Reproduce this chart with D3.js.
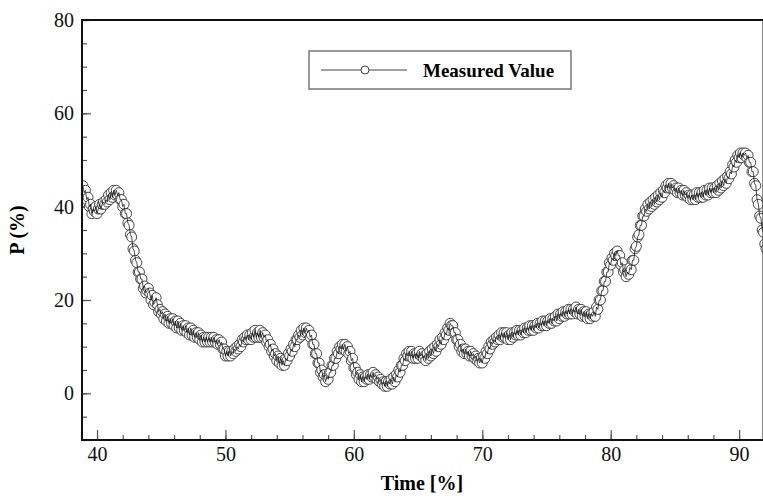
<!DOCTYPE html>
<html>
<head>
<meta charset="utf-8">
<script src="https://cdn.jsdelivr.net/npm/d3@7"></script>
<style>
  body { margin: 0; background: #fff; }
  svg { display: block; }
</style>
</head>
<body>
<div class="chart"></div>
<script>
// Chart size
var svgWidth = 763;
var svgHeight = 498;

// Sampling of the measured series (time in %)
var timeStart = 38.9;
var timeStep = 0.1;

// Measured P values (%), one per sample
var pValues = [
  44.5, 43, 43.5, 41.5, 42, 40, 40.5, 38.5, 39.5, 39, 40, 38.5, 39.5, 40.5, 39.5, 40.5, 41, 40.5, 41.5, 41,
  42.5, 41.5, 43, 42, 43.5, 42.5, 43.5, 42.5, 43, 41.5, 41.5, 40, 40.5, 38.5, 38.5, 36.5, 36, 34, 33.5, 31,
  30.5, 28.5, 28, 26, 26, 24.5, 24.5, 22.5, 23, 21.5, 22, 22.5, 21.5, 20, 21, 19, 19.5, 20.5, 19, 17.5,
  18, 17, 17.5, 16, 17, 15.5, 16.5, 15, 16, 15, 16, 14.5, 15.5, 14, 15.5, 14, 15, 13.5, 14.5, 13.5,
  14.5, 13, 14, 12.5, 14, 12.5, 13.5, 12, 13, 12, 13, 11.5, 12.5, 11, 12, 11, 12, 11, 12, 11,
  12, 11, 12, 11, 11.5, 10.5, 11.5, 10.5, 11, 9.5, 9.5, 8, 9, 8, 9, 8, 9, 8.5, 9.5, 9,
  10, 9.5, 10.5, 10, 11.5, 11, 12, 11.5, 12.5, 11.5, 12.5, 11.5, 13, 12, 13.5, 12, 13, 12, 13.5, 12,
  13, 12, 12.5, 11, 11.5, 10, 10.5, 9, 9.5, 8, 8.5, 7, 8, 6.5, 7.5, 6, 7, 6, 7.5, 7,
  8.5, 8, 9.5, 9, 10.5, 10, 11.5, 11.5, 12.5, 12, 13.5, 12.5, 14, 13, 14, 13, 13.5, 12, 12.5, 10.5,
  10.5, 8.5, 8.5, 6.5, 6.5, 4.5, 5, 3.5, 4, 2.5, 3.5, 3, 4.5, 4.5, 6, 6, 7.5, 7.5, 9, 8.5,
  10, 9.5, 10.5, 9.5, 10.5, 9, 10, 8.5, 9, 7, 7.5, 5.5, 5.5, 4, 4.5, 3, 4, 2.5, 3.5, 2.5,
  3.5, 3, 4, 3, 4, 3.5, 4.5, 3.5, 4, 3, 3.5, 2.5, 3, 2, 2.5, 1.5, 2.5, 1.5, 2.5, 2,
  3, 2, 3.5, 2.5, 4, 3.5, 5, 4.5, 6, 6, 7.5, 7, 8.5, 8, 9, 8, 9, 7.5, 8.5, 7.5,
  8.5, 7.5, 9, 8, 8.5, 7.5, 8, 7, 8.5, 7.5, 9, 8, 9.5, 8.5, 10, 9, 10.5, 10, 11.5, 10.5,
  12, 11.5, 13, 12.5, 14, 13.5, 15, 14.5, 14.5, 13, 13, 11.5, 11.5, 10, 10.5, 9, 9.5, 8.5, 9.5, 8.5,
  9, 8, 9, 8, 8.5, 7.5, 8, 7, 7.5, 6.5, 7.5, 6.5, 8, 7.5, 9, 8.5, 10, 9.5, 11, 10.5,
  11.5, 11, 12, 11.5, 12.5, 11.5, 13, 12, 13, 12, 13, 11.5, 12.5, 11.5, 13, 12, 13, 12.5, 13.5, 12.5,
  13.5, 12.5, 13.5, 13, 14, 13, 14, 13.5, 14.5, 13.5, 14.5, 13.5, 14.5, 14, 15, 14, 15, 14.5, 15.5, 14.5,
  15.5, 14.5, 15.5, 15, 16, 15, 16, 15.5, 16.5, 15.5, 17, 16, 17, 16.5, 17.5, 16.5, 17.5, 17, 18, 17,
  18, 17, 18, 17.5, 18.5, 17, 18, 17, 18, 16.5, 17.5, 16.5, 17.5, 16, 17, 16, 17, 16.5, 17.5, 16.5,
  18.5, 18, 20, 20, 22, 22, 24, 24, 26, 26, 28, 27.5, 29, 28.5, 30, 29.5, 30.5, 29.5, 29.5, 27.5,
  28, 26, 26.5, 25, 26, 25.5, 27, 26.5, 28.5, 28.5, 31, 31.5, 33.5, 34, 36, 36, 38, 38, 39.5, 39,
  40.5, 39.5, 41, 40, 41.5, 40.5, 42, 41, 42.5, 41.5, 43, 42, 43.5, 43, 44.5, 44, 45, 44, 45, 44,
  44.5, 43.5, 44, 43, 44, 43, 43.5, 42.5, 43.5, 42.5, 43, 42, 42.5, 41.5, 42.5, 41.5, 42.5, 41.5, 43, 42,
  43, 42, 43, 42, 43.5, 42.5, 43.5, 42.5, 44, 43, 44, 43, 44, 43, 44.5, 43.5, 45, 44, 45.5, 44.5,
  46, 45, 46.5, 46, 47.5, 47, 49, 48.5, 50, 49.5, 51, 50.5, 51.5, 50.5, 51.5, 51, 51.5, 50.5, 51, 49.5,
  49.5, 47.5, 47.5, 45, 44.5, 41.5, 40.5, 38, 37.5, 35, 34.5, 32, 31
];

// Tick values
var xMajorTicks = [40, 50, 60, 70, 80, 90];
var xMinorTicks = [40, 42, 44, 46, 48, 50, 52, 54, 56, 58, 60, 62, 64, 66, 68, 70, 72, 74, 76, 78, 80, 82, 84, 86, 88, 90];
var yMajorTicks = [0, 20, 40, 60, 80];
var yMinorTicks = [-10, -5, 0, 5, 10, 15, 20, 25, 30, 35, 40, 45, 50, 55, 60, 65, 70, 75, 80];

var legendLabel = "Measured Value";

var data = pValues.map(function(v, i) {
    return { t: timeStart + i * timeStep, p: v };
});

var margin = { top: 20, right: 0, bottom: 58, left: 82 };
var width = 681.5;
var height = svgHeight - margin.top - margin.bottom;

var svg = d3.select(".chart")
    .append("svg")
    .attr("width", svgWidth)
    .attr("height", svgHeight);

var chartGroup = svg.append("g")
    .attr("transform", `translate(${margin.left}, ${margin.top})`);

var xScale = d3.scaleLinear()
    .domain([38.83, 91.9])
    .range([0, width]);

var yScale = d3.scaleLinear()
    .domain([-10, 80])
    .range([height, 0]);

// clip so the series stops at the plot frame
svg.append("defs").append("clipPath")
    .attr("id", "plotClip")
    .append("rect")
    .attr("width", width)
    .attr("height", height);

var serif = "'Liberation Serif', 'Times New Roman', serif";

// minor ticks (inward)
var xMinorAxis = d3.axisBottom(xScale).tickValues(xMinorTicks).tickSize(-5).tickFormat("");
var yMinorAxis = d3.axisLeft(yScale).tickValues(yMinorTicks).tickSize(-5).tickFormat("");
// major ticks (inward) with labels
var xMajorAxis = d3.axisBottom(xScale).tickValues(xMajorTicks).tickSize(-10).tickPadding(7).tickFormat(d3.format("d"));
var yMajorAxis = d3.axisLeft(yScale).tickValues(yMajorTicks).tickSize(-9).tickPadding(8).tickFormat(d3.format("d"));

[xMinorAxis, xMajorAxis].forEach(function(ax) {
    chartGroup.append("g")
        .attr("class", "xaxis")
        .attr("transform", `translate(0, ${height})`)
        .call(ax);
});
[yMinorAxis, yMajorAxis].forEach(function(ax) {
    chartGroup.append("g")
        .attr("class", "yaxis")
        .call(ax);
});

chartGroup.selectAll(".xaxis .domain, .yaxis .domain").remove();
chartGroup.selectAll(".tick line")
    .attr("stroke", "#555")
    .attr("stroke-width", 1.2);
chartGroup.selectAll(".tick text")
    .style("font-family", serif)
    .style("font-size", "20px")
    .attr("fill", "#111");

// series circles, then the joining line over them
var plot = chartGroup.append("g").attr("clip-path", "url(#plotClip)");

plot.selectAll("circle")
    .data(data)
    .enter()
    .append("circle")
    .attr("cx", d => xScale(d.t))
    .attr("cy", d => yScale(d.p))
    .attr("r", 5)
    .attr("fill", "#fff")
    .attr("stroke", "#333")
    .attr("stroke-width", 0.9);

var line = d3.line()
    .x(d => xScale(d.t))
    .y(d => yScale(d.p));

plot.append("path")
    .datum(data)
    .attr("d", line)
    .attr("fill", "none")
    .attr("stroke", "#111")
    .attr("stroke-opacity", 0.75)
    .attr("stroke-width", 1);

// frame
chartGroup.append("rect")
    .attr("width", width)
    .attr("height", height)
    .attr("fill", "none")
    .attr("stroke", "#111")
    .attr("stroke-width", 2);

// legend
var legend = chartGroup.append("g")
    .attr("transform", `translate(${309 - margin.left}, ${51 - margin.top})`);

legend.append("rect")
    .attr("width", 262)
    .attr("height", 38)
    .attr("fill", "#fff")
    .attr("stroke", "#777")
    .attr("stroke-width", 1.5);

legend.append("line")
    .attr("x1", 12).attr("x2", 98)
    .attr("y1", 19).attr("y2", 19)
    .attr("stroke", "#444")
    .attr("stroke-width", 1);

legend.append("circle")
    .attr("cx", 56).attr("cy", 19).attr("r", 4)
    .attr("fill", "#fff")
    .attr("stroke", "#444");

legend.append("text")
    .attr("x", 114).attr("y", 19)
    .attr("dy", "0.35em")
    .style("font-family", serif)
    .style("font-size", "19px")
    .style("font-weight", "bold")
    .text(legendLabel);

// axis titles
svg.append("text")
    .attr("transform", `translate(24, ${margin.top + height / 2}) rotate(-90)`)
    .attr("text-anchor", "middle")
    .style("font-family", serif)
    .style("font-size", "20px")
    .style("font-weight", "bold")
    .text("P (%)");

svg.append("text")
    .attr("x", 422)
    .attr("y", 490)
    .attr("text-anchor", "middle")
    .style("font-family", serif)
    .style("font-size", "20px")
    .style("font-weight", "bold")
    .text("Time [%]");
</script>
</body>
</html>
